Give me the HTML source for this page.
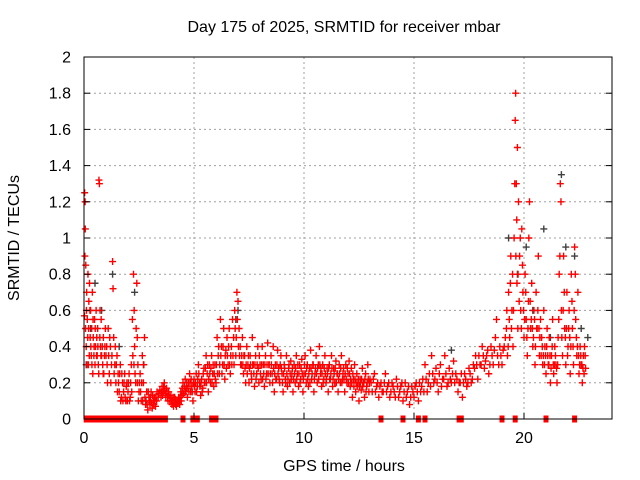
<!DOCTYPE html>
<html><head><meta charset="utf-8"><style>
body{margin:0;background:#fff;}
svg{display:block;font-family:"Liberation Sans",sans-serif;}
</style></head><body>
<svg id="chart" width="640" height="480" viewBox="0 0 640 480">
<rect width="640" height="480" fill="#fff"/>
<g id="grid"></g>
<g id="marks"></g>
<g id="axes"></g>
<text x="344" y="32" font-size="16" text-anchor="middle">Day 175 of 2025, SRMTID for receiver mbar</text>
<text x="344" y="471" font-size="16" text-anchor="middle">GPS time / hours</text>
<text transform="translate(19,238) rotate(-90)" font-size="16" text-anchor="middle">SRMTID / TECUs</text>
</svg>
<script>
const xTicks=[0,5,10,15,20];
const yTicks=[0,0.2,0.4,0.6,0.8,1,1.2,1.4,1.6,1.8,2];
const yTickLabels=["0","0.2","0.4","0.6","0.8","1","1.2","1.4","1.6","1.8","2"];
const redPoints=[[0.02,.57],[0.03,1.25],[0.05,1.2],[0.06,1.05],[0.08,.85],[0.1,.4],[0.12,.7],[0.15,.55],[0.18,.8],[0.2,.3],[0.22,.65],[0.25,.75],[0.28,.45],[0.3,.6],[0.33,.35],[0.35,.5],[0.38,.7],[0.4,.25],[0.42,.45],[0.45,.35],[0.48,.55],[0.5,.3],[0.52,.4],[0.55,.6],[0.58,.45],[0.6,.35],[0.62,.5],[0.65,.3],[0.68,1.32],[0.7,1.3],[0.72,.45],[0.75,.4],[0.78,.55],[0.8,.35],[0.85,.3],[0.88,.45],[0.9,.25],[0.95,.4],[1.0,.35],[1.05,.3],[1.1,.5],[1.15,.25],[1.2,.4],[1.25,.3],[1.3,.87],[1.32,.72],[1.35,.45],[1.4,.3],[1.45,.2],[1.5,.35],[1.55,.25],[1.6,.15],[1.65,.3],[1.7,.12],[1.75,.2],[1.8,.15],[1.85,.25],[1.9,.1],[1.95,.2],[2.0,.15],[2.05,.25],[2.1,.12],[2.15,.3],[2.2,.55],[2.25,.8],[2.28,.6],[2.3,.4],[2.35,.2],[2.4,.75],[2.42,.45],[2.45,.3],[2.5,.15],[2.55,.25],[2.6,.1],[2.65,.35],[2.7,.2],[2.75,.45],[2.8,.08],[2.85,.15],[2.9,.05],[2.95,.12],[3.0,.08],[3.05,.15],[3.1,.06],[3.15,.1],[3.2,.12],[3.25,.07],[3.3,.1],[3.4,.14],[3.5,.12],[3.55,.18],[3.6,.15],[3.65,.2],[3.7,.14],[3.75,.17],[3.8,.12],[3.85,.15],[3.9,.1],[3.95,.13],[4.0,.08],[4.05,.12],[4.1,.09],[4.15,.11],[4.2,.07],[4.25,.1],[4.3,.12],[4.35,.08],[4.4,.15],[4.45,.13],[4.5,.2],[4.55,.15],[4.6,.22],[4.65,.17],[4.7,.12],[4.75,.2],[4.8,.25],[4.85,.15],[4.9,.18],[4.95,.1],[5.0,.22],[5.05,.15],[5.1,.25],[5.15,.18],[5.2,.3],[5.25,.2],[5.3,.13],[5.35,.22],[5.4,.17],[5.45,.28],[5.5,.2],[5.55,.35],[5.6,.25],[5.65,.15],[5.7,.3],[5.75,.2],[5.8,.35],[5.85,.25],[5.9,.18],[5.95,.3],[6.0,.2],[6.05,.45],[6.1,.35],[6.15,.25],[6.2,.55],[6.25,.4],[6.3,.3],[6.35,.5],[6.4,.22],[6.45,.38],[6.5,.45],[6.55,.3],[6.6,.5],[6.65,.25],[6.7,.4],[6.75,.55],[6.8,.45],[6.85,.6],[6.9,.35],[6.95,.7],[7.0,.65],[7.05,.5],[7.1,.4],[7.15,.3],[7.2,.45],[7.25,.25],[7.3,.35],[7.35,.2],[7.4,.4],[7.45,.3],[7.5,.2],[7.55,.35],[7.6,.25],[7.65,.45],[7.7,.3],[7.75,.18],[7.8,.35],[7.85,.25],[7.9,.4],[7.95,.2],[8.0,.3],[8.05,.22],[8.1,.4],[8.15,.3],[8.2,.18],[8.25,.35],[8.3,.25],[8.35,.42],[8.4,.3],[8.45,.2],[8.5,.35],[8.55,.25],[8.6,.4],[8.65,.15],[8.7,.3],[8.75,.22],[8.8,.38],[8.85,.28],[8.9,.2],[8.95,.35],[9.0,.25],[9.05,.15],[9.1,.3],[9.15,.22],[9.2,.35],[9.25,.18],[9.3,.28],[9.35,.2],[9.4,.32],[9.45,.25],[9.5,.15],[9.55,.3],[9.6,.2],[9.65,.35],[9.7,.25],[9.75,.18],[9.8,.3],[9.85,.22],[9.9,.33],[9.95,.15],[10.0,.25],[10.05,.35],[10.1,.2],[10.15,.3],[10.2,.18],[10.25,.28],[10.3,.38],[10.35,.22],[10.4,.3],[10.45,.15],[10.5,.25],[10.55,.35],[10.6,.2],[10.65,.3],[10.7,.4],[10.75,.25],[10.8,.18],[10.85,.3],[10.9,.22],[10.95,.35],[11.0,.2],[11.05,.28],[11.1,.15],[11.15,.3],[11.2,.22],[11.25,.35],[11.3,.18],[11.35,.28],[11.4,.2],[11.45,.32],[11.5,.25],[11.55,.15],[11.6,.3],[11.65,.2],[11.7,.35],[11.75,.22],[11.8,.28],[11.85,.15],[11.9,.3],[11.95,.2],[12.0,.25],[12.05,.32],[12.1,.18],[12.15,.28],[12.2,.12],[12.25,.22],[12.3,.3],[12.35,.15],[12.4,.25],[12.45,.2],[12.5,.1],[12.55,.22],[12.6,.16],[12.65,.28],[12.7,.2],[12.75,.12],[12.8,.25],[12.85,.18],[12.9,.3],[12.95,.15],[13.0,.22],[13.1,.15],[13.2,.25],[13.3,.18],[13.4,.12],[13.5,.2],[13.6,.15],[13.7,.25],[13.8,.18],[13.9,.12],[14.0,.2],[14.1,.15],[14.2,.22],[14.3,.12],[14.4,.18],[14.5,.1],[14.6,.2],[14.7,.15],[14.8,.08],[14.9,.18],[15.0,.12],[15.1,.2],[15.2,.1],[15.3,.15],[15.4,.22],[15.5,.3],[15.6,.15],[15.7,.25],[15.8,.35],[15.9,.2],[16.0,.28],[16.1,.15],[16.2,.3],[16.3,.22],[16.4,.35],[16.5,.18],[16.6,.28],[16.7,.2],[16.8,.32],[16.9,.25],[17.0,.15],[17.1,.2],[17.2,.12],[17.3,.25],[17.4,.18],[17.5,.28],[17.6,.2],[17.7,.3],[17.8,.35],[17.9,.22],[18.0,.3],[18.1,.4],[18.2,.28],[18.3,.35],[18.4,.25],[18.5,.4],[18.6,.3],[18.7,.45],[18.75,.55],[18.8,.35],[18.9,.4],[19.0,.3],[19.1,.4],[19.2,.5],[19.25,.35],[19.3,.7],[19.35,.45],[19.4,.9],[19.45,.6],[19.5,.4],[19.55,1.0],[19.6,1.65],[19.62,1.8],[19.65,1.3],[19.68,.75],[19.7,1.5],[19.72,.5],[19.75,1.2],[19.8,.9],[19.85,.6],[19.9,1.05],[19.95,.7],[20.0,.45],[20.05,.8],[20.1,.55],[20.15,.35],[20.2,.65],[20.25,1.2],[20.3,.5],[20.35,.75],[20.4,.4],[20.45,.6],[20.5,.3],[20.55,.7],[20.6,.5],[20.65,.9],[20.7,.35],[20.75,.55],[20.8,.45],[20.85,.3],[20.9,.6],[20.95,.4],[21.0,.25],[21.05,.5],[21.1,.3],[21.15,.45],[21.2,.2],[21.25,.35],[21.3,.55],[21.35,.25],[21.4,.4],[21.45,.3],[21.5,.2],[21.55,.45],[21.6,.8],[21.65,1.3],[21.68,1.2],[21.7,.6],[21.75,.35],[21.8,.9],[21.85,.5],[21.9,.3],[21.95,.7],[22.0,.4],[22.05,.6],[22.1,.25],[22.15,.8],[22.2,.5],[22.25,.3],[22.3,.95],[22.35,.55],[22.4,.35],[22.45,.7],[22.5,.25],[22.55,.4],[22.6,.3],[22.65,.2],[22.7,.35],[22.75,.4],[22.8,.28]];
const redExtra=[[0.04,.9],[0.07,.5],[0.11,.6],[0.14,.3],[0.17,.45],[0.21,.5],[0.24,.35],[0.27,.6],[0.31,.4],[0.36,.3],[0.41,.55],[0.46,.4],[0.51,.5],[0.57,.35],[0.63,.4],[0.67,.25],[0.73,.6],[0.77,.35],[0.83,.4],[0.87,.25],[0.93,.35],[0.97,.5],[1.03,.4],[1.07,.2],[1.12,.35],[1.17,.45],[1.22,.2],[1.27,.35],[1.37,.25],[1.42,.4],[1.47,.3],[1.52,.15],[1.57,.2],[1.62,.25],[1.67,.1],[1.72,.25],[1.77,.1],[1.82,.2],[1.87,.12],[1.92,.18],[1.97,.1],[2.02,.2],[2.07,.1],[2.12,.2],[2.17,.15],[2.22,.35],[2.27,.3],[2.32,.25],[2.37,.5],[2.43,.2],[2.47,.1],[2.52,.2],[2.57,.15],[2.62,.2],[2.67,.1],[2.72,.3],[2.77,.12],[2.82,.1],[2.87,.08],[2.92,.15],[2.97,.1],[3.02,.12],[3.07,.09],[3.12,.13],[3.17,.08],[3.22,.1],[3.27,.12],[3.32,.15],[3.37,.12],[3.45,.16],[3.52,.15],[3.57,.13],[3.62,.18],[3.67,.16],[3.72,.12],[3.77,.15],[3.82,.1],[3.87,.13],[3.92,.12],[3.97,.1],[4.02,.1],[4.07,.07],[4.12,.12],[4.17,.08],[4.22,.1],[4.27,.09],[4.32,.1],[4.37,.12],[4.42,.1],[4.47,.17],[4.52,.14],[4.57,.18],[4.62,.15],[4.67,.2],[4.72,.17],[4.77,.15],[4.82,.2],[4.87,.22],[4.92,.15],[4.97,.2],[5.02,.18],[5.07,.2],[5.12,.15],[5.17,.22],[5.22,.25],[5.27,.18],[5.32,.2],[5.37,.15],[5.42,.25],[5.47,.2],[5.52,.28],[5.57,.2],[5.62,.3],[5.67,.22],[5.72,.25],[5.77,.28],[5.82,.2],[5.87,.3],[5.92,.25],[5.97,.22],[6.02,.3],[6.07,.25],[6.12,.4],[6.17,.3],[6.22,.35],[6.27,.25],[6.32,.4],[6.37,.3],[6.42,.35],[6.47,.28],[6.52,.35],[6.57,.4],[6.62,.3],[6.67,.35],[6.72,.3],[6.77,.35],[6.82,.3],[6.87,.5],[6.92,.45],[6.97,.55],[7.02,.4],[7.07,.35],[7.12,.3],[7.17,.35],[7.22,.3],[7.27,.35],[7.32,.28],[7.37,.3],[7.42,.25],[7.47,.35],[7.52,.28],[7.57,.3],[7.62,.22],[7.67,.3],[7.72,.25],[7.77,.3],[7.82,.22],[7.87,.3],[7.92,.28],[7.97,.35],[8.02,.25],[8.07,.3],[8.12,.22],[8.17,.25],[8.22,.3],[8.27,.22],[8.32,.3],[8.37,.25],[8.42,.3],[8.47,.25],[8.52,.3],[8.57,.2],[8.62,.28],[8.67,.25],[8.72,.22],[8.77,.3],[8.82,.25],[8.87,.22],[8.92,.3],[8.97,.28],[9.02,.2],[9.07,.25],[9.12,.28],[9.17,.2],[9.22,.25],[9.27,.22],[9.32,.3],[9.37,.25],[9.42,.22],[9.47,.28],[9.52,.22],[9.57,.25],[9.62,.28],[9.67,.22],[9.72,.3],[9.77,.25],[9.82,.2],[9.87,.28],[9.92,.25],[9.97,.22],[10.02,.3],[10.07,.25],[10.12,.28],[10.17,.22],[10.22,.25],[10.27,.2],[10.32,.28],[10.37,.25],[10.42,.3],[10.47,.22],[10.52,.28],[10.57,.25],[10.62,.28],[10.67,.22],[10.72,.3],[10.77,.28],[10.82,.25],[10.87,.2],[10.92,.28],[10.97,.25],[11.02,.22],[11.07,.25],[11.12,.28],[11.17,.22],[11.22,.25],[11.27,.28],[11.32,.22],[11.37,.25],[11.42,.28],[11.47,.2],[11.52,.25],[11.57,.22],[11.62,.25],[11.67,.28],[11.72,.2],[11.77,.25],[11.82,.22],[11.87,.25],[11.92,.22],[11.97,.28],[12.02,.2],[12.07,.25],[12.12,.22],[12.17,.2],[12.22,.25],[12.27,.18],[12.32,.22],[12.37,.2],[12.42,.18],[12.47,.22],[12.52,.18],[12.57,.2],[12.62,.22],[12.67,.18],[12.72,.2],[12.77,.22],[12.82,.15],[12.87,.2],[12.92,.22],[12.97,.2],[13.05,.2],[13.15,.22],[13.25,.15],[13.35,.2],[13.45,.18],[13.55,.15],[13.65,.2],[13.75,.15],[13.85,.2],[13.95,.15],[14.05,.18],[14.15,.12],[14.25,.18],[14.35,.15],[14.45,.2],[14.55,.15],[14.65,.12],[14.75,.18],[14.85,.12],[14.95,.15],[15.05,.18],[15.15,.15],[15.25,.2],[15.35,.18],[15.45,.15],[15.55,.22],[15.65,.2],[15.75,.18],[15.85,.25],[15.95,.22],[16.05,.2],[16.15,.25],[16.25,.18],[16.35,.22],[16.45,.25],[16.55,.2],[16.65,.22],[16.75,.25],[16.85,.2],[16.95,.22],[17.05,.2],[17.15,.25],[17.25,.2],[17.35,.22],[17.45,.2],[17.55,.25],[17.65,.22],[17.75,.28],[17.85,.3],[17.95,.35],[18.05,.3],[18.15,.35],[18.25,.32],[18.35,.38],[18.45,.3],[18.55,.35],[18.65,.38],[18.85,.3],[18.95,.35],[19.05,.38],[19.15,.45],[19.22,.6],[19.28,.4],[19.33,.55],[19.38,.75],[19.43,.5],[19.48,.8],[19.52,.6],[19.58,1.3],[19.63,.9],[19.67,1.1],[19.73,.8],[19.78,.65],[19.83,1.0],[19.88,.5],[19.93,.85],[19.98,.6],[20.03,.55],[20.08,.7],[20.13,.45],[20.18,.5],[20.22,1.0],[20.28,.65],[20.33,.55],[20.38,.5],[20.43,.45],[20.48,.55],[20.52,.4],[20.58,.5],[20.63,.6],[20.68,.5],[20.72,.45],[20.78,.35],[20.83,.4],[20.88,.35],[20.93,.3],[20.98,.35],[21.03,.4],[21.08,.35],[21.13,.3],[21.18,.35],[21.23,.28],[21.28,.4],[21.33,.3],[21.38,.3],[21.43,.35],[21.48,.28],[21.53,.3],[21.58,.55],[21.63,.9],[21.72,.45],[21.78,.6],[21.83,.7],[21.88,.45],[21.93,.5],[21.98,.35],[22.03,.5],[22.08,.45],[22.13,.4],[22.18,.65],[22.23,.4],[22.28,.6],[22.33,.8],[22.38,.45],[22.43,.4],[22.48,.35],[22.53,.3],[22.58,.35],[22.63,.3],[22.68,.28],[22.73,.25],[22.78,.35]];
const zeroHours=[0.1,0.2,0.3,0.4,0.5,0.6,0.75,0.9,1.0,1.1,1.2,1.35,1.5,1.6,1.7,1.8,1.9,2.05,2.1,2.2,2.3,2.35,2.5,2.6,2.65,2.8,2.95,3.0,3.1,3.2,3.3,3.4,3.5,3.6,3.7,4.5,4.95,5.15,5.8,6.0,13.5,14.5,15.2,15.5,17.05,17.15,19.0,19.6,21.0,22.3];
const grayPoints=[[0.1,.3],[0.3,.5],[0.5,.75],[0.8,.6],[1.3,.8],[1.6,.4],[2.3,.7],[2.7,.3],[6.9,.55],[7.0,.6],[16.7,.38],[19.3,1.0],[19.7,.8],[20.1,.95],[20.4,.6],[20.9,1.05],[21.2,.45],[21.7,1.35],[21.9,.95],[22.3,.9],[22.6,.5],[22.9,.45]];

const X0=84,X1=612,Y0=419,Y1=57,XMAX=24,YMAX=2;
const sx=v=>X0+(X1-X0)*v/XMAX;
const sy=v=>Y0-(Y0-Y1)*v/YMAX;
const NS="http://www.w3.org/2000/svg";
const grid=document.getElementById('grid'),axes=document.getElementById('axes'),marks=document.getElementById('marks');
function mk(tag,attrs,parent){const e=document.createElementNS(NS,tag);for(const k in attrs)e.setAttribute(k,attrs[k]);parent.appendChild(e);return e;}
yTicks.forEach((t,i)=>{
  if(t>0&&t<YMAX){const g=mk('line',{x1:X0,x2:X1,y1:sy(t),y2:sy(t),stroke:'#a0a0a0','stroke-dasharray':'2,3'},grid);
  
  }
  const tk=mk('line',{x1:X0,x2:X0+6,y1:sy(t),y2:sy(t),stroke:'#000'},axes);
  
  
  const tk2=mk('line',{x1:X1,x2:X1-6,y1:sy(t),y2:sy(t),stroke:'#000'},axes);
  
  
  const tl=mk('text',{x:X0-13,y:sy(t)+5.5,'font-size':'16','text-anchor':'end'},axes);
  tl.textContent=yTickLabels[i];
  
  
});
xTicks.forEach(t=>{
  if(t>0){const g=mk('line',{x1:sx(t),x2:sx(t),y1:Y0,y2:Y1,stroke:'#a0a0a0','stroke-dasharray':'2,3'},grid);
  
  }
  const tk=mk('line',{x1:sx(t),x2:sx(t),y1:Y0,y2:Y0-6,stroke:'#000'},axes);
  
  
  const tl=mk('text',{x:sx(t),y:Y0+24,'font-size':'16','text-anchor':'middle'},axes);
  tl.textContent=String(t);
  
  
});
const frame=mk('rect',{x:X0,y:Y1,width:X1-X0,height:Y0-Y1,fill:'none',stroke:'#000'},axes);


function plus(x,y,color,name){
  const p=mk('path',{d:`M${x-3.5},${y}h7M${x},${y-3.5}v7`,stroke:color,'stroke-width':'1.4',fill:'none'},marks);
  
  
}
grayPoints.forEach(p=>plus(sx(p[0]),sy(p[1]),'#404040','gray-point'));
redPoints.forEach(p=>plus(sx(p[0]),sy(p[1]),'#ff0000','red-point'));
redExtra.forEach(p=>plus(sx(p[0]),sy(p[1]),'#ff0000','red-point'));
zeroHours.forEach(h=>{
  const r=mk('rect',{x:sx(h)-2.5,y:Y0-3.5,width:5,height:7,fill:'#ff0000'},marks);
  
  
});
</script>
</body></html>
